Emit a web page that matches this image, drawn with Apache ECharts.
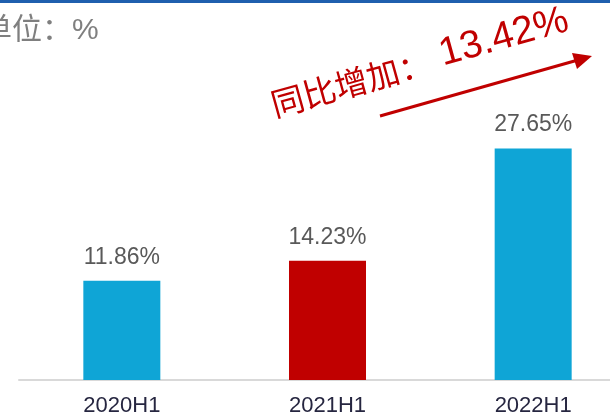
<!DOCTYPE html>
<html>
<head>
<meta charset="utf-8">
<script src="https://cdn.jsdelivr.net/npm/echarts@6/dist/echarts.min.js"></script>
<style>
html,body{margin:0;padding:0;background:#fff;}
#main{width:610px;height:417px;}
</style>
</head>
<body>
<div id="main"></div>
<script>
// 数据
var categories = ['2020H1', '2021H1', '2022H1'];
var values = [11.86, 14.23, 27.65];
var barColors = ['#0fa5d6', '#c00000', '#0fa5d6'];
var unitText = '单位：%';
var growthLabel = '同比增加：';
var growthValue = '13.42%';

var myChart = echarts.init(document.getElementById('main'));

var barData = [];
for (var i = 0; i < values.length; i++) {
	barData.push({value: values[i], itemStyle: {color: barColors[i]}});
}

var deg = Math.PI / 180;

var option = {
	animation: false,
	backgroundColor: '#fff',
	grid: {left: 19, width: 617, top: 45, bottom: 37, outerBoundsMode: 'none', containLabel: false},
	xAxis: {
		type: 'category',
		data: categories,
		axisLine: {lineStyle: {color: '#d9d9d9', width: 2}},
		axisTick: {show: false},
		axisLabel: {
			color: '#262640',
			fontSize: 22,
			fontFamily: 'Liberation Sans',
			margin: 15
		}
	},
	yAxis: {
		type: 'value',
		min: 0,
		max: 40,
		show: false
	},
	series: [{
		type: 'bar',
		data: barData,
		barWidth: 77,
		label: {
			show: true,
			position: 'top',
			distance: 12,
			color: '#595959',
			fontSize: 23,
			fontFamily: 'Liberation Sans',
			formatter: '{c}%'
		}
	}],
	graphic: [
		// 顶部蓝线
		{type: 'rect', left: 0, top: 0, shape: {width: 610, height: 3}, style: {fill: '#1f5fae'}},
		// 单位
		{
			type: 'text', x: -18, y: 31,
			style: {
				text: unitText,
				fill: '#7f7f7f',
				font: '30px "Liberation Sans", "Noto Sans CJK SC"',
				verticalAlign: 'middle'
			}
		},
		// 同比增加 斜体文字
		{
			type: 'text', x: 276, y: 121, rotation: 15.5 * deg,
			style: {
				text: '{a|' + growthLabel + '}{b| ' + growthValue + '}',
				verticalAlign: 'bottom',
				align: 'left',
				rich: {
					a: {fill: '#c00000', fontSize: 33, fontFamily: 'Noto Sans CJK SC', verticalAlign: 'bottom'},
					b: {fill: '#c00000', fontSize: 39, fontFamily: 'Liberation Sans', verticalAlign: 'bottom'}
				}
			}
		},
		// 箭头
		{
			type: 'line',
			shape: {x1: 380, y1: 116, x2: 578, y2: 60},
			style: {stroke: '#c00000', lineWidth: 3}
		},
		{
			type: 'polygon',
			shape: {points: [[592, 56], [572, 53], [577, 69]]},
			style: {fill: '#c00000'}
		}
	]
};

myChart.setOption(option);
</script>
</body>
</html>
